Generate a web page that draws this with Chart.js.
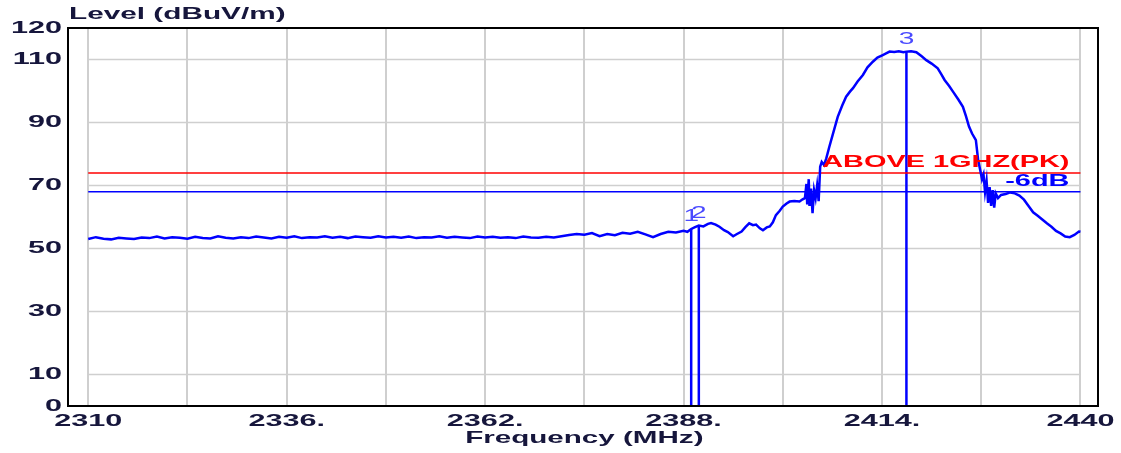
<!DOCTYPE html>
<html>
<head>
<meta charset="utf-8">
<title>Level (dBuV/m)</title>
<script src="https://cdn.jsdelivr.net/npm/chart.js@4/dist/chart.umd.min.js"></script>
<style>
  html, body { margin: 0; padding: 0; background: #ffffff; }
  #wrap { width: 1121px; height: 453px; }
</style>
</head>
<body>
<div id="wrap"><canvas id="chart" width="1121" height="453"></canvas></div>
<script>
// spectrum trace (MHz / dBuV/m)
const traceFreq = [
  2310, 2311, 2312, 2313, 2314, 2315, 2316, 2317, 2318, 2319,
  2320, 2321, 2322, 2323, 2324, 2325, 2326, 2327, 2328, 2329,
  2330, 2331, 2332, 2333, 2334, 2335, 2336, 2337, 2338, 2339,
  2340, 2341, 2342, 2343, 2344, 2345, 2346, 2347, 2348, 2349,
  2350, 2351, 2352, 2353, 2354, 2355, 2356, 2357, 2358, 2359,
  2360, 2361, 2362, 2363, 2364, 2365, 2366, 2367, 2368, 2369,
  2370, 2371, 2372, 2373, 2374, 2375, 2376, 2377, 2378, 2379,
  2380, 2381, 2382, 2383, 2384, 2385, 2386, 2387, 2388,
  2388.5, 2389.0, 2389.5, 2390.0, 2390.6, 2391.2, 2391.6, 2392.2, 2392.7, 2393.3,
  2393.8, 2394.5, 2395.0, 2395.6, 2396.1, 2396.6, 2397.1, 2397.5, 2398.0, 2398.4,
  2398.9, 2399.3, 2399.7, 2400.1, 2400.6, 2401.0, 2401.5, 2401.9, 2402.5, 2403.2,
  2403.6, 2403.9,
  2404.1, 2404.2, 2404.4, 2404.5, 2404.7, 2404.9, 2405.1, 2405.3, 2405.5, 2405.7,
  2405.9, 2406.1, 2406.4, 2406.7,
  2407.1, 2407.6, 2408.2, 2408.8, 2409.3, 2409.8, 2410.2, 2410.8, 2411.5, 2412.1,
  2412.8, 2413.4, 2414.1, 2414.6, 2415.0, 2415.6, 2416.2, 2416.8, 2417.2, 2417.8,
  2418.5, 2419.2, 2419.8, 2420.5, 2421.3, 2421.8, 2422.2, 2422.8, 2423.3, 2424.0,
  2424.6, 2425.0, 2425.4, 2425.8, 2426.3,
  2426.6, 2426.9, 2427.1, 2427.3, 2427.5, 2427.7, 2427.9, 2428.1, 2428.3, 2428.5,
  2428.7, 2428.9, 2429.2, 2429.6,
  2430.2, 2430.8, 2431.4, 2432.0, 2432.6, 2433.2, 2433.8, 2434.4, 2435.0, 2435.6,
  2436.2, 2436.8, 2437.4, 2438.0, 2438.6, 2439.2, 2439.8, 2440.0
];
const traceLevel = [
  53.0, 53.6, 53.1, 52.9, 53.4, 53.2, 53.0, 53.5, 53.3, 53.8,
  53.2, 53.6, 53.4, 53.1, 53.7, 53.3, 53.2, 53.9, 53.4, 53.2,
  53.6, 53.3, 53.8, 53.5, 53.2, 53.7, 53.4, 53.9, 53.3, 53.6,
  53.5, 53.9, 53.4, 53.7, 53.3, 53.8, 53.6, 53.4, 53.9, 53.5,
  53.7, 53.4, 53.8, 53.3, 53.6, 53.5, 53.9, 53.4, 53.7, 53.5,
  53.3, 53.8, 53.5, 53.7, 53.4, 53.6, 53.3, 53.8, 53.5, 53.4,
  53.7, 53.5, 53.9, 54.3, 54.6, 54.4, 54.9, 53.9, 54.6, 54.2,
  55.0, 54.7, 55.3, 54.5, 53.6, 54.6, 55.3, 55.1, 55.6,
  55.3, 56.2, 56.8, 57.3, 57.0, 57.8, 58.1, 57.6, 56.9, 55.8,
  55.2, 53.9, 54.6, 55.4, 56.8, 58.0, 57.4, 57.6, 56.4, 55.8,
  56.7, 57.0, 58.3, 60.6, 62.0, 63.3, 64.3, 64.9, 65.1, 64.9,
  65.6, 66.0,
  70.5, 64.0, 72.0, 63.5, 69.0, 61.2, 68.5, 66.0, 70.0, 65.0,
  76.0, 77.5, 76.5, 78.6,
  82.3, 86.6, 91.8, 95.5, 98.2, 99.8, 100.9, 103.0, 105.1, 107.5,
  109.3, 110.6, 111.4, 112.0, 112.5, 112.4, 112.6, 112.3, 112.5, 112.6,
  112.3, 111.0, 109.8, 108.7, 107.2, 105.2, 103.5, 101.6, 99.8, 97.3,
  95.0, 92.0, 88.7, 86.5, 84.4,
  78.0, 74.5, 72.0, 73.5, 68.0, 71.5, 64.5, 69.5, 63.5, 68.5,
  63.0, 67.5, 66.0, 67.0,
  67.3, 67.8, 67.5, 66.8, 65.5, 63.5, 61.5, 60.4, 59.2, 58.0,
  56.9, 55.6, 54.8, 53.8, 53.6, 54.3, 55.4, 55.3
];

// markers
const markerNames = ["1", "2", "3"];
const markerFreq = [2389.0, 2390.0, 2417.2];
const markerLevel = [56.2, 57.3, 112.5];

// limit line and -6dB line
const limitNames = ["ABOVE 1GHZ(PK)", "-6dB"];
const limitLevels = [74, 68];
const limitColors = ["#ff0000", "#0000ff"];
const limitSpan = [2310, 2440];

// axes
const xTicks = [2310, 2323, 2336, 2349, 2362, 2375, 2388, 2401, 2414, 2427, 2440];
const xTickLabels = ["2310", "", "2336.", "", "2362.", "", "2388.", "", "2414.", "", "2440"];
const yTicks = [0, 10, 30, 50, 70, 90, 110, 120];
const yGrid = [10, 30, 50, 70, 90, 110];
const xTitle = "Frequency (MHz)";
const yTitle = "Level (dBuV/m)";

const textColor = "#16163c";
const traceColor = "#0000ff";

function stretchText(ctx, text, x, y, align, sx) {
  ctx.save();
  ctx.translate(x, y);
  ctx.scale(sx, 1);
  ctx.textAlign = align;
  ctx.textBaseline = "middle";
  ctx.fillText(text, 0, 0);
  ctx.restore();
}

const plotDecor = {
  id: "plotDecor",
  beforeDatasetsDraw(chart) {
    const { ctx, scales } = chart;
    const x0 = scales.x.getPixelForValue(xTicks[0]);
    const x1 = scales.x.getPixelForValue(xTicks[xTicks.length - 1]);
    ctx.save();
    ctx.strokeStyle = "#cfcfcf";
    ctx.lineWidth = 1.5;
    yGrid.forEach((v) => {
      const py = scales.y.getPixelForValue(v);
      ctx.beginPath();
      ctx.moveTo(x0, py);
      ctx.lineTo(x1, py);
      ctx.stroke();
    });
    ctx.restore();
  },
  afterDraw(chart) {
    const { ctx, chartArea, scales } = chart;
    const xs = scales.x;
    const ys = scales.y;
    ctx.save();

    // frame
    ctx.strokeStyle = "#000000";
    ctx.lineWidth = 2;
    ctx.strokeRect(chartArea.left, chartArea.top, chartArea.right - chartArea.left, chartArea.bottom - chartArea.top);

    // tick labels
    ctx.fillStyle = textColor;
    ctx.font = "bold 17px 'Liberation Sans', Arial, sans-serif";
    yTicks.forEach((v) => {
      stretchText(ctx, String(v), chartArea.left - 6, ys.getPixelForValue(v), "right", 1.8);
    });
    xTicks.forEach((v, i) => {
      if (xTickLabels[i]) {
        stretchText(ctx, xTickLabels[i], xs.getPixelForValue(v), chartArea.bottom + 15, "center", 1.8);
      }
    });

    // axis titles
    stretchText(ctx, yTitle, chartArea.left + 1, 14, "left", 1.75);
    stretchText(ctx, xTitle, (xs.getPixelForValue(xTicks[0]) + xs.getPixelForValue(xTicks[10])) / 2, chartArea.bottom + 32, "center", 1.74);

    // limit labels
    limitNames.forEach((name, i) => {
      ctx.fillStyle = limitColors[i];
      stretchText(ctx, name, xs.getPixelForValue(limitSpan[1]) - 11, ys.getPixelForValue(limitLevels[i]) - 10.5, "right", 1.7);
    });

    // marker labels
    ctx.font = "16px 'Liberation Sans', Arial, sans-serif";
    ctx.fillStyle = "#4a4aff";
    markerNames.forEach((name, i) => {
      stretchText(ctx, name, xs.getPixelForValue(markerFreq[i]), ys.getPixelForValue(markerLevel[i]) - 12, "center", 1.75);
    });

    ctx.restore();
  },
};

const datasets = [
  {
    label: "Level",
    data: traceFreq.map((f, i) => ({ x: f, y: traceLevel[i] })),
    borderColor: traceColor,
    borderWidth: 2.5,
    pointRadius: 0,
    tension: 0,
  },
];
limitLevels.forEach((lv, i) => {
  datasets.push({
    label: limitNames[i],
    data: limitSpan.map((f) => ({ x: f, y: lv })),
    borderColor: limitColors[i],
    borderWidth: 1.5,
    pointRadius: 0,
  });
});
markerFreq.forEach((f, i) => {
  datasets.push({
    label: "Marker " + markerNames[i],
    data: [{ x: f, y: 0 }, { x: f, y: markerLevel[i] }],
    borderColor: traceColor,
    borderWidth: 2.5,
    pointRadius: 0,
  });
});

const ctx = document.getElementById("chart").getContext("2d");
new Chart(ctx, {
  type: "line",
  data: { datasets: datasets },
  options: {
    responsive: false,
    animation: false,
    layout: { padding: { left: 68, right: 23, top: 28, bottom: 47 } },
    plugins: { legend: { display: false }, tooltip: { enabled: false } },
    scales: {
      x: {
        type: "linear",
        min: 2307.35,
        max: 2442.3,
        afterBuildTicks: (scale) => {
          scale.ticks = xTicks.map((v) => ({ value: v }));
        },
        ticks: { display: false },
        grid: { color: "#cfcfcf", lineWidth: 2, drawTicks: false },
        border: { display: false },
      },
      y: {
        min: 0,
        max: 120,
        afterBuildTicks: (scale) => {
          scale.ticks = yTicks.map((v) => ({ value: v }));
        },
        ticks: { display: false },
        grid: { display: false, drawTicks: false },
        border: { display: false },
      },
    },
  },
  plugins: [plotDecor],
});
</script>
</body>
</html>
